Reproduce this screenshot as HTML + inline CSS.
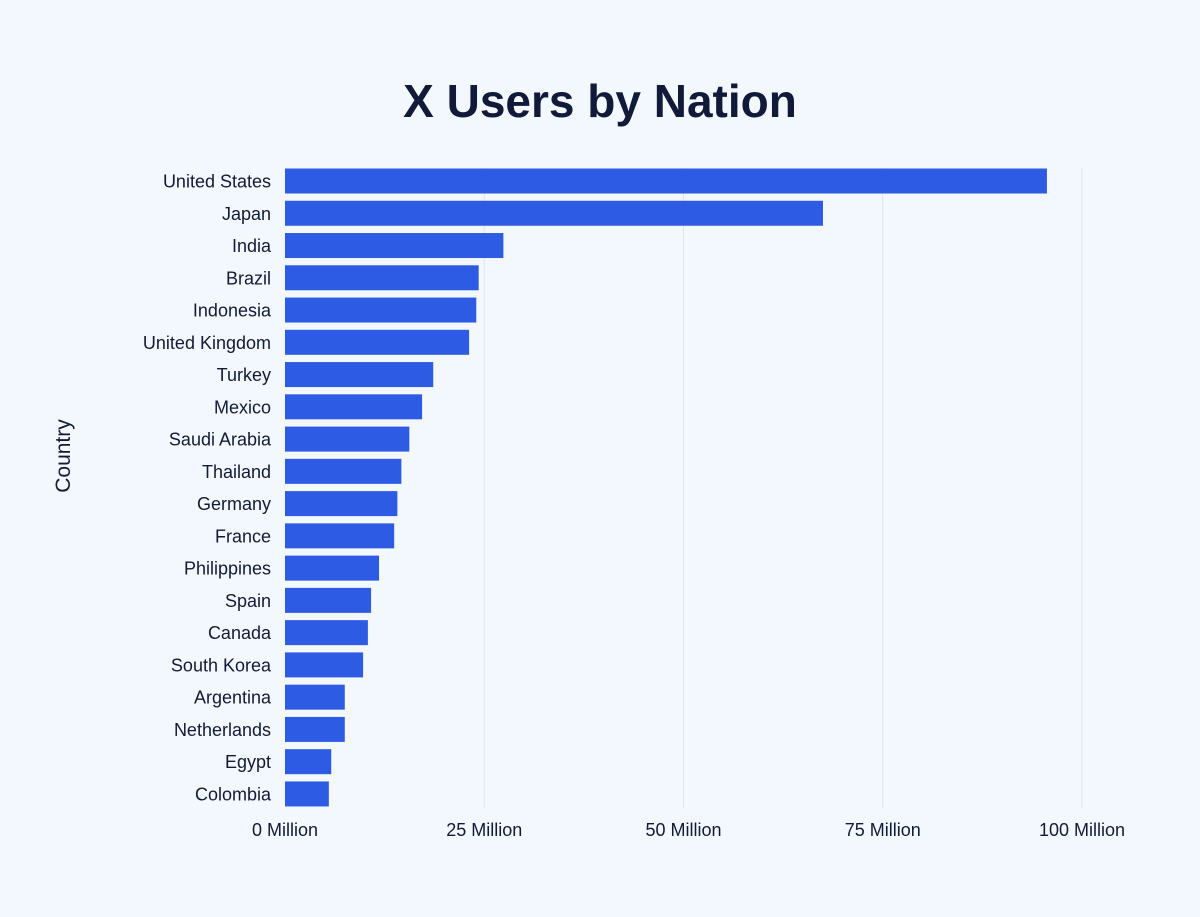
<!DOCTYPE html>
<html><head><meta charset="utf-8">
<style>
html,body{margin:0;padding:0;background:#f3f8fe;}
body{width:1200px;height:912px;overflow:hidden;font-family:"Liberation Sans",sans-serif;}
</style></head>
<body>
<svg width="1200" height="912" xmlns="http://www.w3.org/2000/svg">
<rect width="1200" height="912" fill="#f3f8fe"/>
<text x="600" y="117" text-anchor="middle" font-family="Liberation Sans, sans-serif" font-weight="bold" font-size="46" fill="#111a38">X Users by Nation</text>
<text transform="translate(70,456) rotate(-90)" text-anchor="middle" font-family="Liberation Sans, sans-serif" font-size="21" fill="#111a38">Country</text>
<g id="grid"></g><g id="bars"></g><g id="ylabels"></g><g id="xlabels"></g>
</svg>
<script>
const categories=["United States","Japan","India","Brazil","Indonesia","United Kingdom","Turkey","Mexico","Saudi Arabia","Thailand","Germany","France","Philippines","Spain","Canada","South Korea","Argentina","Netherlands","Egypt","Colombia"];
const values=[95.6,67.5,27.4,24.3,24.0,23.1,18.6,17.2,15.6,14.6,14.1,13.7,11.8,10.8,10.4,9.8,7.5,7.5,5.8,5.5];
const tickValues=[0,25,50,75,100];
const tickLabels=["0 Million","25 Million","50 Million","75 Million","100 Million"];
const NS="http://www.w3.org/2000/svg";
const x0=285,x1=1082,xmax=100;
const xs=v=>x0+(x1-x0)*v/xmax;
const yTop=168,step=32.26,bh=25;
const yc=i=>181+i*step;
function mk(t,a,p){const e=document.createElementNS(NS,t);for(const k in a)e.setAttribute(k,a[k]);document.getElementById(p).appendChild(e);return e;}
tickValues.forEach((v,i)=>{
 if(v>0){const l=mk('line',{x1:xs(v),x2:xs(v),y1:yTop,y2:808,stroke:'#dfe4ea','stroke-width':1},'grid');
 
 }
 const t=mk('text',{x:xs(v),y:836,'text-anchor':'middle','font-size':18,fill:'#111a38'},'xlabels');
 t.textContent=tickLabels[i];
 
 
});
categories.forEach((c,i)=>{
 const r=mk('rect',{x:x0,y:yc(i)-bh/2,width:xs(values[i])-x0,height:bh,fill:'#2d5be3'},'bars');
 
 
 const t=mk('text',{x:271,y:yc(i)+6.5,'text-anchor':'end','font-size':18,fill:'#111a38'},'ylabels');
 t.textContent=c;
 
 
});
</script>
</body></html>
